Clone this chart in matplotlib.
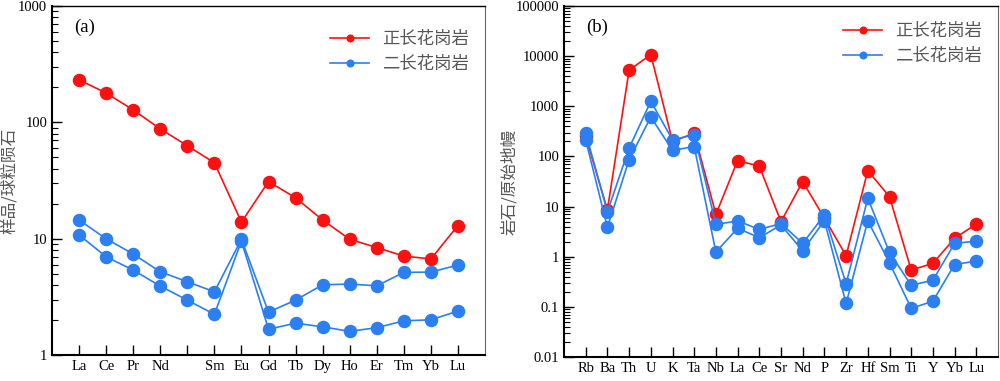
import matplotlib
matplotlib.use("Agg")
import matplotlib.pyplot as plt
from matplotlib.ticker import LogLocator, NullFormatter

plt.rcParams['font.family'] = ['Liberation Serif', 'Noto Sans CJK SC']

# REE (chondrite normalised)
ree = ['La', 'Ce', 'Pr', 'Nd', '', 'Sm', 'Eu', 'Gd', 'Tb', 'Dy', 'Ho', 'Er', 'Tm', 'Yb', 'Lu']
ree_syenogranite = [232, 179, 128, 88, 63, 45, 13.9, 31, 22.5, 14.5, 9.9, 8.4, 7.1, 6.7, 13.0]
ree_monzo_1 = [14.5, 10.0, 7.4, 5.2, 4.27, 3.5, 9.9, 2.34, 2.97, 4.02, 4.08, 3.94, 5.14, 5.17, 5.94]
ree_monzo_2 = [10.8, 7.0, 5.38, 3.92, 2.97, 2.24, 9.55, 1.67, 1.88, 1.75, 1.6, 1.72, 1.97, 2.01, 2.39]

# trace elements (primitive mantle normalised)
trace = ['Rb', 'Ba', 'Th', 'U', 'K', 'Ta', 'Nb', 'La', 'Ce', 'Sr', 'Nd', 'P',
         'Zr', 'Hf', 'Sm', 'Ti', 'Y', 'Yb', 'Lu']
tr_syenogranite = [251, 8.6, 5250, 10800, 200, 290, 7.0, 83, 64, 5.0, 31.6, 5.9,
                   1.05, 52, 15.8, 0.54, 0.74, 2.33, 4.5]
tr_monzo_1 = [295, 7.9, 147, 1260, 215, 270, 4.4, 5.2, 3.5, 4.6, 1.85, 6.8,
              0.29, 14.7, 1.22, 0.27, 0.34, 1.85, 2.05]
tr_monzo_2 = [215, 3.86, 86, 615, 132, 158, 1.24, 3.7, 2.4, 4.3, 1.32, 5.25,
              0.117, 5.2, 0.76, 0.093, 0.13, 0.7, 0.82]

RED = '#ff1010'
BLUE = '#2b7ff0'
CJK = ['Noto Sans CJK SC', 'DejaVu Sans']


def draw(ax, labels, red, blues, ylim, ylabel, tag, leg_y):
    x = range(len(labels))
    ax.plot(x, red, '-o', color=RED, lw=1.2, ms=8.7, label='正长花岗岩')
    for i, b in enumerate(blues):
        ax.plot(x, b, '-o', color=BLUE, lw=1.2, ms=8.7,
                label='二长花岗岩' if i == 0 else None)
    ax.set_yscale('log')
    ax.set_ylim(*ylim)
    ax.set_xlim(-1, len(labels))
    ax.set_xticks(list(x))
    ax.set_xticklabels(labels, fontsize=10.5)
    ax.yaxis.set_major_locator(LogLocator(base=10, numticks=20))
    ax.yaxis.set_minor_locator(LogLocator(base=10, subs=range(2, 10), numticks=20))
    ax.yaxis.set_minor_formatter(NullFormatter())
    ax.yaxis.set_major_formatter(plt.FuncFormatter(lambda v, p: '%g' % v))
    ax.tick_params(axis='both', which='major', direction='in', length=7, width=1,
                   right=False, top=False, labelsize=10.5)
    ax.tick_params(axis='y', which='minor', direction='in', length=4, width=0.8, right=False)
    for s in ['left', 'bottom']:
        ax.spines[s].set_linewidth(1.5)
    ax.spines['right'].set_color('#666666')
    ax.spines['top'].set_linewidth(1.0)
    ax.set_ylabel(ylabel, family=CJK, fontsize=12, color='#555555', fontweight='light')
    ax.text(0.05, 0.965, tag, transform=ax.transAxes, fontsize=13.5, va='top')
    leg = ax.legend(loc='upper right', bbox_to_anchor=(1.0, leg_y), frameon=False,
                    prop={'family': CJK, 'size': 12.5, 'weight': 'light'},
                    markerscale=0.55, handlelength=2.2, labelspacing=0.4)
    for t in leg.get_texts():
        t.set_color('#555555')


fig = plt.figure(figsize=(10, 3.81), dpi=100)
ax1 = fig.add_axes([0.052, 0.068, 0.433, 0.916])
ax2 = fig.add_axes([0.564, 0.063, 0.434, 0.921])

draw(ax1, ree, ree_syenogranite, [ree_monzo_1, ree_monzo_2], (1, 1000),
     '样品/球粒陨石', '(a)', 0.975)
draw(ax2, trace, tr_syenogranite, [tr_monzo_1, tr_monzo_2], (0.01, 100000),
     '岩石/原始地幔', '(b)', 1.0)
ax1.yaxis.set_label_coords(-0.078, 0.5)
ax2.yaxis.set_label_coords(-0.105, 0.5)

fig.savefig('out.png', dpi=100)
